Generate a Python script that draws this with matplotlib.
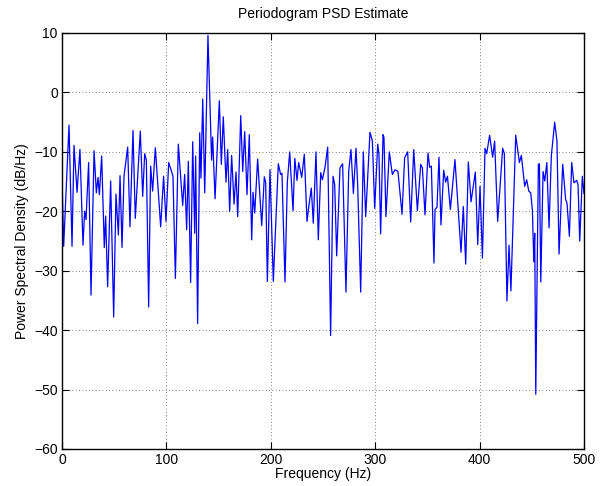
import numpy as np
import matplotlib
matplotlib.use("Agg")
import matplotlib.pyplot as plt

# periodogram values (Hz, dB/Hz)
freq = [0, 1.6, 6.7, 9.6, 11.5, 14.4, 17.2, 20.1, 21.7, 23.0, 25.5, 27.8, 30.7, 32.9, 34.5, 35.8,
        38.0, 40.5, 41.8, 43.7, 46.6, 49.5, 51.7, 54.0, 55.6, 57.5, 59.4, 62.9, 65.1, 68.0, 70.2,
        75.0, 77.3, 79.2, 80.8, 83.0, 84.9, 86.8, 89.4, 94.5, 97.3, 99.6, 102.2, 104.4, 106.3,
        108.6, 111.4, 115.6, 117.5, 119.4, 121.0, 123.2, 125.2, 127.1, 128.0, 129.9, 131.9,
        133.1, 134.8, 136.7, 139.8, 143.3, 144.3, 146.6, 150.7, 152.6, 154.5, 157.1, 158.7,
        160.6, 162.5, 164.8, 166.7, 168.3, 171.2, 173.1, 175.0, 177.2, 179.4, 181.7, 183.0,
        184.6, 187.4, 191.3, 193.8, 195.1, 196.7, 199.2, 202.4, 207.2, 209.4, 210.7, 213.6,
        215.8, 218.1, 221.3, 223.0, 225.1, 226.7, 229.6, 232.1, 234.7, 236.6, 238.8, 240.7,
        243.3, 245.5, 247.8, 249.4, 251.9, 254.5, 257.3, 259.6, 261.2, 263.1, 266.3, 268.8,
        272.0, 274.6, 276.8, 279.1, 281.6, 283.2, 286.1, 288.6, 290.9, 295.0, 297.3, 299.5,
        302.4, 303.6, 305.2, 307.5, 308.4, 310.3, 313.5, 316.4, 319.0, 321.8, 325.7, 328.2,
        331.1, 334.0, 336.9, 340.4, 343.6, 345.2, 347.7, 350.6, 352.2, 353.8, 356.3, 357.3,
        359.2, 361.1, 363.0, 365.6, 367.5, 369.2, 372.0, 376.4, 382.2, 384.4, 386.7, 389.2,
        391.8, 395.9, 398.2, 400.4, 402.7, 405.2, 406.8, 409.6, 412.5, 414.4, 417.3, 422.1,
        423.7, 426.2, 428.2, 430.0, 434.6, 438.1, 440.0, 443.2, 445.1, 447.1, 449.0, 450.6,
        451.9, 452.8, 453.8, 456.3, 457.3, 458.6, 460.8, 462.4, 464.4, 466.5, 468.7, 471.9,
        474.1, 476.1, 479.6, 482.4, 483.7, 486.0, 488.2, 490.4, 493.0, 494.3, 495.9, 498.4,
        500.0]
psd = [-14.1, -25.9, -5.5, -25.9, -8.9, -16.8, -9.6, -25.7, -20.0, -21.4, -11.8, -34.1, -9.8,
       -16.9, -14.3, -17.2, -10.7, -26.1, -20.8, -32.7, -14.9, -37.8, -17.1, -24.0, -14.0,
       -26.1, -14.1, -9.2, -22.6, -6.4, -21.2, -6.5, -17.5, -10.3, -11.4, -36.1, -12.4, -16.6,
       -9.3, -22.6, -14.1, -21.7, -11.8, -13.0, -14.1, -31.3, -8.7, -19.0, -13.8, -23.1, -11.6,
       -32.0, -8.3, -23.7, -10.7, -38.9, -6.8, -14.4, -1.1, -16.9, 9.6, -11.4, -7.5, -17.9,
       -1.4, -12.1, -4.1, -15.1, -9.6, -20.0, -10.6, -18.8, -13.4, -20.9, -3.9, -13.3, -6.6,
       -17.2, -7.1, -24.8, -16.8, -20.3, -11.2, -22.4, -14.2, -15.2, -31.8, -13.0, -31.8,
       -12.0, -13.8, -13.6, -31.9, -15.2, -10.0, -19.9, -11.1, -14.8, -11.8, -14.3, -10.4,
       -21.7, -18.9, -16.1, -22.0, -10.0, -24.8, -13.5, -14.7, -12.6, -9.2, -40.9, -14.1,
       -15.5, -27.5, -12.7, -12.0, -33.6, -13.3, -9.6, -17.0, -9.4, -15.5, -33.6, -10.0, -20.9,
       -6.7, -8.2, -19.5, -8.7, -10.4, -23.8, -7.1, -7.6, -20.9, -10.0, -13.8, -13.0, -13.3,
       -20.5, -11.0, -10.0, -21.8, -9.6, -19.9, -12.1, -12.7, -20.6, -10.2, -12.6, -12.4,
       -28.7, -19.7, -19.3, -10.9, -22.3, -13.1, -15.1, -14.1, -19.7, -11.3, -26.9, -19.2,
       -28.9, -11.7, -18.4, -13.4, -25.6, -15.8, -27.9, -9.4, -10.3, -7.2, -10.9, -8.2, -21.7,
       -9.4, -10.3, -35.1, -25.7, -33.4, -7.2, -11.8, -10.6, -15.8, -14.7, -16.6, -16.9,
       -19.9, -28.5, -23.7, -50.8, -12.1, -12.0, -31.9, -13.3, -14.9, -11.8, -22.8, -10.7,
       -5.0, -8.2, -27.2, -12.1, -18.0, -18.6, -24.2, -11.8, -15.2, -14.8, -15.5, -25.0,
       -14.1, -17.0]

xticks = [0, 100, 200, 300, 400, 500]
yticks = [-60, -50, -40, -30, -20, -10, 0, 10]

plt.rcParams['font.family'] = ['Liberation Sans', 'DejaVu Sans']
plt.rcParams['font.size'] = 10

fig = plt.figure(figsize=(6.01, 4.86), dpi=100)
ax = fig.add_axes([62/601, 37/486, 522/601, 416/486])

ax.plot(freq, psd, color='#0000ff', linewidth=0.9)

ax.set_xlim(0, 500)
ax.set_ylim(-60, 10)
ax.set_xticks(xticks)
ax.set_yticks(yticks)
ax.tick_params(direction='in', top=True, right=True, length=5, width=0.8, pad=3)
for s in ax.spines.values():
    s.set_linewidth(1.0)
ax.grid(True, color='#555555', linestyle=(0, (1, 3)), linewidth=0.6)

ax.set_title('Periodogram PSD Estimate', fontsize=10, pad=11)
ax.set_xlabel('Frequency (Hz)', labelpad=0)
ax.set_ylabel('Power Spectral Density (dB/Hz)', labelpad=4)

fig.savefig('out.png', dpi=100)
